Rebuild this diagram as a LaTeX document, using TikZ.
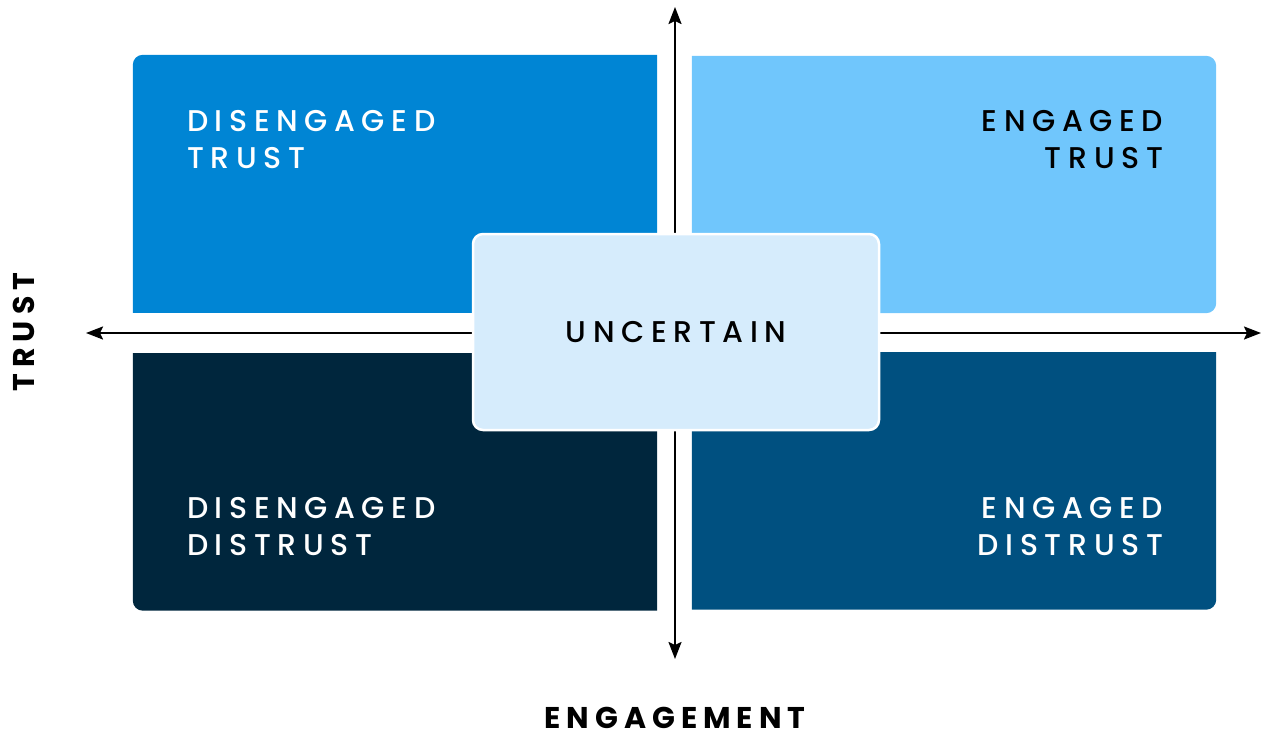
\documentclass[tikz,border=0pt]{standalone}
\usepackage{fontspec}
\setmainfont{Poppins}
\usetikzlibrary{positioning,arrows.meta}
\definecolor{QuadTL}{RGB}{0,133,212}
\definecolor{QuadTR}{RGB}{112,198,252}
\definecolor{QuadBL}{RGB}{0,38,61}
\definecolor{QuadBR}{RGB}{0,80,128}
\definecolor{CenterFill}{RGB}{214,236,252}
\newfontfamily\quadfont[LetterSpace=22]{Poppins Medium}
\newfontfamily\axisfont[LetterSpace=20]{Poppins Bold}

\begin{document}
\begin{tikzpicture}[
    x=1pt, y=-1pt,
    quad/.style={rectangle, inner sep=0pt, minimum width=524pt, minimum height=257pt},
    qlabel/.style={inner sep=0pt, font=\fontsize{30}{37}\selectfont\quadfont},
    axislabel/.style={inner sep=0pt, font=\fontsize{30}{37}\selectfont\axisfont},
    axis/.style={line width=2pt, {Stealth[length=17pt,width=13pt,inset=3pt]}-{Stealth[length=17pt,width=13pt,inset=3pt]}},
    middle/.style={rectangle, rounded corners=10pt, draw=white, line width=2.5pt, fill=CenterFill,
        minimum width=406pt, minimum height=196pt, font=\fontsize{30}{37}\selectfont\quadfont}
]
\useasboundingbox (0,0) rectangle (1261,734);

% the four quadrants, only the outer corner is rounded
\node[quad] (tl) at (395,183.5) {};
\node[quad] (tr) at (954,184.5) {};
\node[quad] (bl) at (395,482) {};
\node[quad] (br) at (954,481) {};

\begin{scope}
\clip (tl.north west) rectangle (tl.south east);
\fill[QuadTL, rounded corners=10pt] (tl.north west) rectangle ([shift={(20,20)}]tl.south east);
\end{scope}
\begin{scope}
\clip (tr.north west) rectangle (tr.south east);
\fill[QuadTR, rounded corners=10pt] ([shift={(-20,0)}]tr.south west) rectangle (tr.north east);
\end{scope}
\begin{scope}
\clip (bl.north west) rectangle (bl.south east);
\fill[QuadBL, rounded corners=10pt] ([shift={(0,-20)}]bl.north west) rectangle ([shift={(20,0)}]bl.south east);
\end{scope}
\begin{scope}
\clip (br.north west) rectangle (br.south east);
\fill[QuadBR, rounded corners=10pt] ([shift={(-20,-20)}]br.north west) rectangle (br.south east);
\end{scope}

\node[qlabel, text=white, anchor=north west, align=left] (tltext)
    at ([shift={(54,55)}]tl.north west) {DISENGAGED\\TRUST};
\node[qlabel, text=black, anchor=north east, align=right] (trtext)
    at ([shift={(-53,54)}]tr.north east) {ENGAGED\\TRUST};
\node[qlabel, text=white, anchor=north west, align=left] (bltext)
    at ([shift={(54,144)}]bl.north west) {DISENGAGED\\DISTRUST};
\node[qlabel, text=white, anchor=north east, align=right] (brtext)
    at ([shift={(-53,145)}]br.north east) {ENGAGED\\DISTRUST};

% axes
\coordinate (left) at (86,333);
\coordinate (right) at (1261,333);
\coordinate (top) at (675,7);
\coordinate (bottom) at (675,659);
\draw[axis] (left) -- (right);
\draw[axis] (top) -- (bottom);

\node[middle] (uncertain) at (676,332) {UNCERTAIN};

\node[axislabel, rotate=90] (trust) at (24,332) {TRUST};
\node[axislabel] (engagement) at (675,718) {ENGAGEMENT};
\end{tikzpicture}
\end{document}
